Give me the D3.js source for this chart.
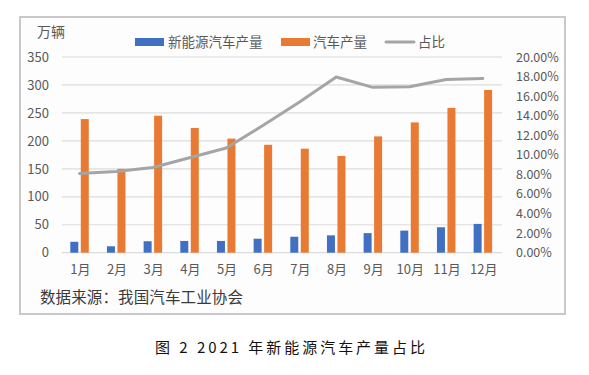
<!DOCTYPE html>
<html><head><meta charset="utf-8">
<script src="https://cdn.jsdelivr.net/npm/d3@7"></script>
<style>body{margin:0;background:#fff}svg{display:block}</style>
</head><body><svg id="c" width="589" height="375"></svg>
<script>
const months = ["1月","2月","3月","4月","5月","6月","7月","8月","9月","10月","11月","12月"];
const nevProduction = [19.5, 11.5, 20.5, 21, 21, 25, 28.5, 31, 35, 39.5, 45.5, 51.5];
const totalProduction = [239, 150, 245, 223, 204, 193, 186, 173, 208, 233, 259, 291];
const sharePct = [8.1, 8.3, 8.7, 9.7, 10.7, 13.0, 15.4, 17.95, 16.9, 16.95, 17.7, 17.8];
const leftTicks = [0, 50, 100, 150, 200, 250, 300, 350];
const rightTicks = [0, 2, 4, 6, 8, 10, 12, 14, 16, 18, 20];
const seriesNames = ["新能源汽车产量", "汽车产量", "占比"];
const colors = ["#4170c2", "#e87a33", "#a5a5a5"];

const font = "'Noto Sans CJK SC','Noto Sans',sans-serif";
const svg = d3.select("#c");
svg.append("rect").attr("x",20).attr("y",17).attr("width",545).attr("height",297)
  .attr("fill","#fdfdfd").attr("stroke","#c9c9c9").attr("stroke-width",2);

const x0 = 62, x1 = 502, yTop = 57, yBot = 252.7;
const x = d3.scaleBand().domain(months).range([x0, x1]);
const yL = d3.scaleLinear().domain([0, 350]).range([yBot, yTop]);
const yR = d3.scaleLinear().domain([0, 20]).range([yBot, yTop]);

// gridlines
svg.append("g").selectAll("line").data(leftTicks).join("line")
  .attr("x1", x0).attr("x2", x1).attr("y1", d=>yL(d)).attr("y2", d=>yL(d))
  .attr("stroke", "#dcdcdc").attr("stroke-width", 1.2);

// left axis
const gL = svg.append("g").attr("transform", `translate(${x0},0)`)
  .call(d3.axisLeft(yL).tickValues(leftTicks).tickSize(0).tickPadding(13));
gL.select(".domain").remove();
gL.selectAll("text").attr("font-family", font).attr("font-size", 13).attr("fill", "#595959");

// right axis
const gR = svg.append("g").attr("transform", `translate(${x1},0)`)
  .call(d3.axisRight(yR).tickValues(rightTicks).tickSize(0).tickPadding(14)
    .tickFormat(d => d.toFixed(2) + "%"));
gR.select(".domain").remove();
gR.selectAll("text").attr("font-family", font).attr("font-size", 12.5).attr("fill", "#595959");

// bottom axis
const gB = svg.append("g").attr("transform", `translate(0,${yBot})`)
  .call(d3.axisBottom(x).tickSize(0).tickPadding(12));
gB.select(".domain").remove();
gB.selectAll("text").attr("font-family", font).attr("font-size", 13).attr("fill", "#595959");

const bw = 8, gap = 2.5;
const cx = m => x(m) + x.bandwidth()/2 - 0.8;
svg.append("g").selectAll("rect").data(months).join("rect")
  .attr("x", (m)=>cx(m) - gap/2 - bw).attr("width", bw)
  .attr("y", (m,i)=>yL(nevProduction[i])).attr("height", (m,i)=>yBot - yL(nevProduction[i]))
  .attr("fill", colors[0]);
svg.append("g").selectAll("rect").data(months).join("rect")
  .attr("x", (m)=>cx(m) + gap/2).attr("width", bw)
  .attr("y", (m,i)=>yL(totalProduction[i])).attr("height", (m,i)=>yBot - yL(totalProduction[i]))
  .attr("fill", colors[1]);

const line = d3.line().x((d,i)=>cx(months[i])).y(d=>yR(d));
svg.append("path").datum(sharePct).attr("d", line).attr("fill","none")
  .attr("stroke", colors[2]).attr("stroke-width", 3).attr("stroke-linejoin","round").attr("stroke-linecap","round");

// unit label
svg.append("text").attr("x", 37).attr("y", 37).text("万辆")
  .attr("font-family", font).attr("font-size", 14).attr("fill", "#595959");

// legend
const lg = svg.append("g").attr("font-family", font).attr("font-size", 13.5).attr("fill", "#595959");
lg.append("rect").attr("x",135).attr("y",38).attr("width",29).attr("height",8).attr("fill",colors[0]);
lg.append("text").attr("x",168).attr("y",47).text(seriesNames[0]);
lg.append("rect").attr("x",281).attr("y",38).attr("width",29).attr("height",8).attr("fill",colors[1]);
lg.append("text").attr("x",313).attr("y",47).text(seriesNames[1]);
lg.append("line").attr("x1",386).attr("x2",414).attr("y1",42).attr("y2",42).attr("stroke",colors[2]).attr("stroke-width",3).attr("stroke-linecap","round");
lg.append("text").attr("x",418).attr("y",47).text(seriesNames[2]);

// source
svg.append("text").attr("x", 40).attr("y", 303).text("数据来源：我国汽车工业协会")
  .attr("font-family", font).attr("font-size", 15.5).attr("fill", "#3a3a3a")
  .attr("textLength", 203).attr("lengthAdjust","spacing");

// caption
svg.append("text").attr("x", 155).attr("y", 353).text("图 2 2021 年新能源汽车产量占比")
  .attr("font-family", font).attr("font-size", 15).attr("font-weight", 400).attr("fill", "#111")
  .attr("textLength", 270).attr("lengthAdjust","spacing");
</script></body></html>
